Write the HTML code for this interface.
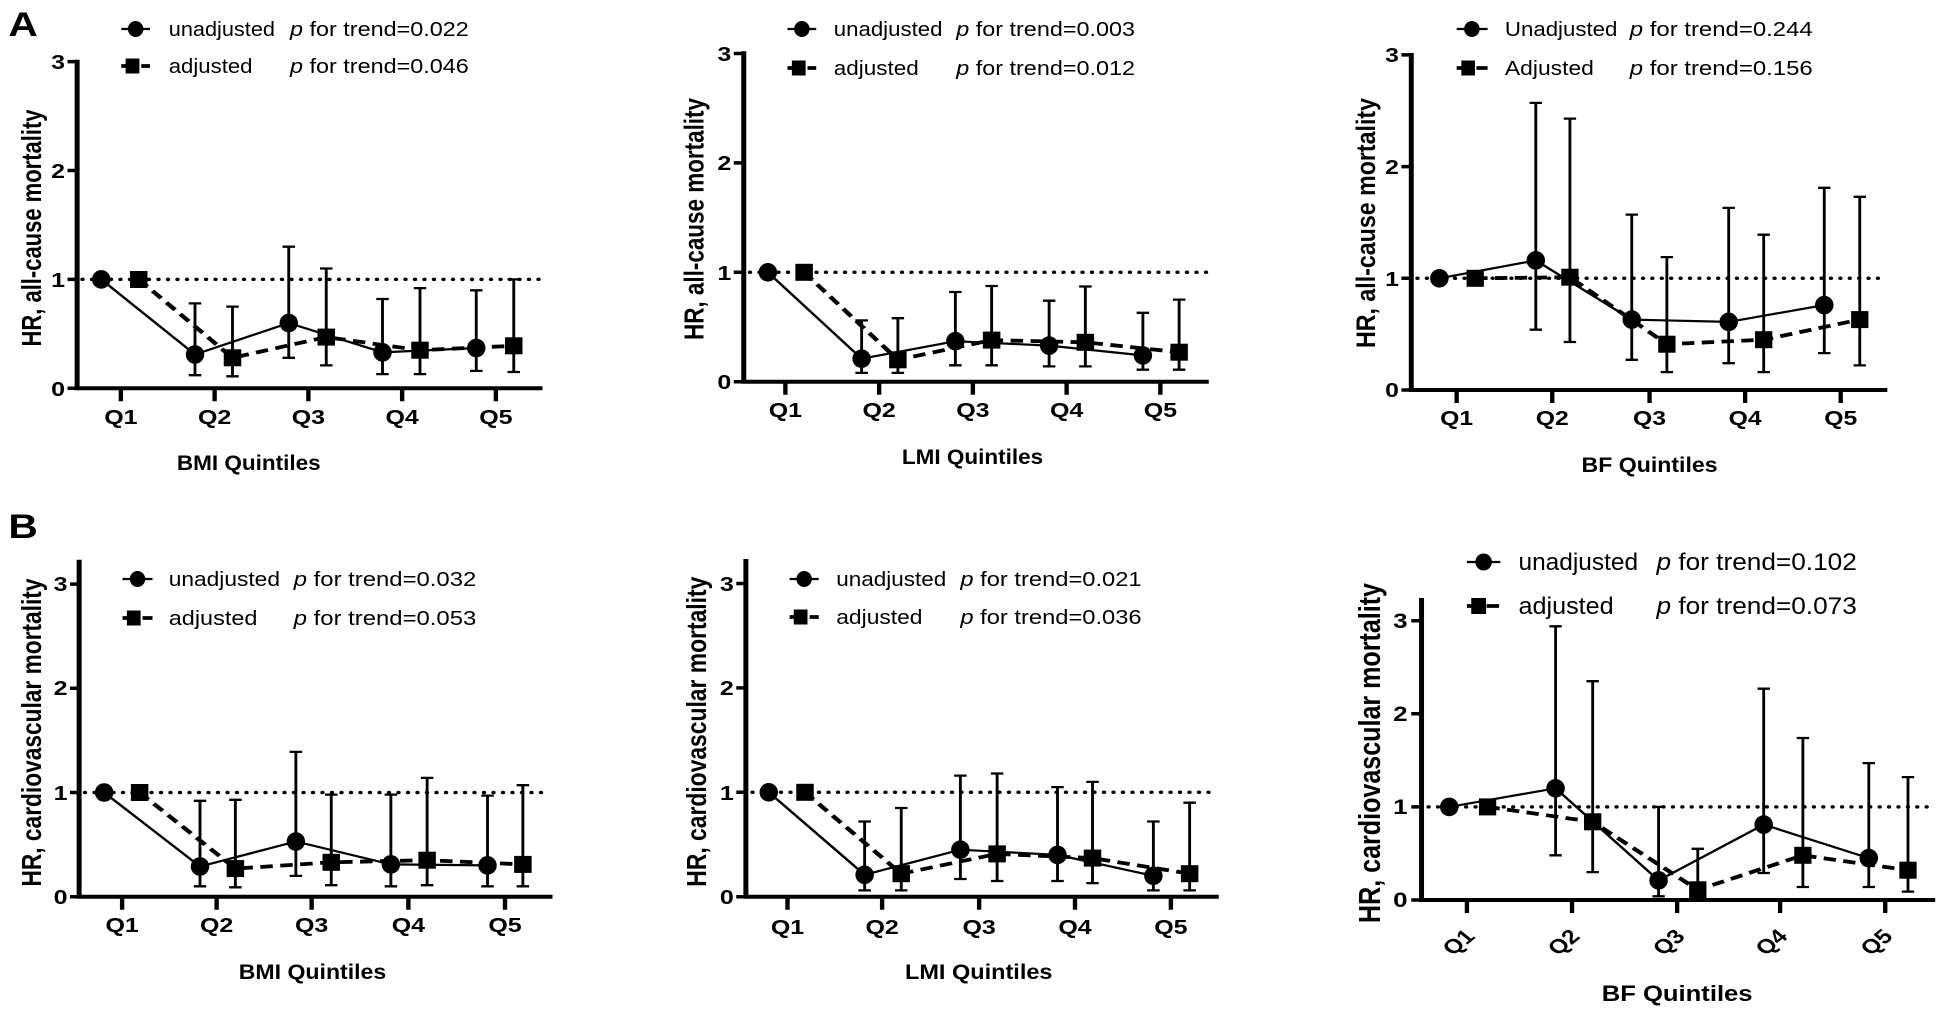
<!DOCTYPE html>
<html><head><meta charset="utf-8"><style>
html,body{margin:0;padding:0;background:#fff;}
svg{display:block;}
text{font-family:"Liberation Sans",Arial,sans-serif;fill:#000;}
.b{font-weight:bold;}
.ax{stroke:#000;stroke-width:4;fill:none;stroke-linecap:square;}
.tk{stroke:#000;stroke-width:3.5;fill:none;}
.eb{stroke:#000;stroke-width:2.3;fill:none;}
.ln{stroke:#000;stroke-width:2.2;fill:none;}
.dl{stroke:#000;stroke-width:3.8;fill:none;stroke-dasharray:10 6;}
.dot{stroke:#000;stroke-width:3.5;fill:none;stroke-dasharray:0 7.6;stroke-linecap:round;}
</style></head><body>
<svg width="1943" height="1020" viewBox="0 0 1943 1020" xmlns="http://www.w3.org/2000/svg">
<text x="7" y="36" class="b" font-size="34" transform="scale(1.2,1)">A</text>
<text x="7" y="538" class="b" font-size="34" transform="scale(1.2,1)">B</text>

<!-- ===== A1 ===== -->
<g transform="scale(1.25,1)">
<path class="dot" d="M66 279.4 H432"/>
<path class="ax" d="M61.7 61.7 V388.3 H432"/>
<path class="tk" d="M54 61.6 H61.7 M54 170.5 H61.7 M54 279.4 H61.7 M54 388.3 H61.7 M96.7 388.3 v13 M171.7 388.3 v13 M246.7 388.3 v13 M321.7 388.3 v13 M396.7 388.3 v13"/>
<g class="b" font-size="20" text-anchor="end"><text x="52" y="69">3</text><text x="52" y="178">2</text><text x="52" y="287">1</text><text x="52" y="396">0</text></g>
<g class="b" font-size="20" text-anchor="middle"><text x="96.7" y="424">Q1</text><text x="171.7" y="424">Q2</text><text x="246.7" y="424">Q3</text><text x="321.7" y="424">Q4</text><text x="396.7" y="424">Q5</text></g>
<text x="199" y="470" class="b" font-size="21" text-anchor="middle" textLength="115" lengthAdjust="spacingAndGlyphs">BMI Quintiles</text>
<text transform="translate(25,228) rotate(-90)" dy="0.35em" class="b" font-size="22" text-anchor="middle" textLength="237" lengthAdjust="spacingAndGlyphs">HR, all-cause mortality</text>
<path class="eb" d="M156 375.2V303.4M151 375.2h10M151 303.4h10 M231 357.8V246.7M226 357.8h10M226 246.7h10 M306 374.1V299M301 374.1h10M301 299h10 M381 370.9V290.3M376 370.9h10M376 290.3h10"/>
<path class="eb" d="M186 376.3V306.6M181 376.3h10M181 306.6h10 M261 365.4V268.5M256 365.4h10M256 268.5h10 M336 374.1V288.1M331 374.1h10M331 288.1h10 M411 372V279.4M406 372h10M406 279.4h10"/>
<path class="ln" d="M81 279.4L156 354.5L231 323L306 352.4L381 348"/>
<path class="dl" d="M111 279.4L186 357.8L261 337.1L336 350.2L411 345.8"/>
<g><ellipse cx="81" cy="279.4" rx="7.4" ry="9.3"/><ellipse cx="156" cy="354.5" rx="7.4" ry="9.3"/><ellipse cx="231" cy="323" rx="7.4" ry="9.3"/><ellipse cx="306" cy="352.4" rx="7.4" ry="9.3"/><ellipse cx="381" cy="348" rx="7.4" ry="9.3"/></g>
<g><rect x="104" y="271" width="14" height="17"/><rect x="179" y="349.3" width="14" height="17"/><rect x="254" y="328.6" width="14" height="17"/><rect x="329" y="341.7" width="14" height="17"/><rect x="404" y="337.3" width="14" height="17"/></g>
<path class="ln" d="M97 29H120"/><ellipse cx="108.5" cy="29" rx="6.2" ry="8"/>
<path class="dl" d="M97 66H120" stroke-dasharray="4 4"/><rect x="100.5" y="58.5" width="11" height="15"/>
<text x="135" y="36" font-size="20" textLength="85" lengthAdjust="spacingAndGlyphs">unadjusted</text>
<text x="232" y="36" font-size="20" textLength="143" lengthAdjust="spacingAndGlyphs"><tspan font-style="italic">p</tspan> for trend=0.022</text>
<text x="135" y="73" font-size="20" textLength="67" lengthAdjust="spacingAndGlyphs">adjusted</text>
<text x="232" y="73" font-size="20" textLength="143" lengthAdjust="spacingAndGlyphs"><tspan font-style="italic">p</tspan> for trend=0.046</text>
</g>

<!-- ===== A2 ===== -->
<g transform="translate(650,0) scale(1.25,1) translate(-650,0)">
<path class="dot" d="M730 272.3 H1095"/>
<path class="ax" d="M725 53.3 V381.7 H1095"/>
<path class="tk" d="M717 53.5 H725 M717 162.9 H725 M717 272.3 H725 M717 381.7 H725 M758.3 381.7 v13 M833.3 381.7 v13 M908.3 381.7 v13 M983.3 381.7 v13 M1058.3 381.7 v13"/>
<g class="b" font-size="20" text-anchor="end"><text x="715" y="61">3</text><text x="715" y="170">2</text><text x="715" y="280">1</text><text x="715" y="389">0</text></g>
<g class="b" font-size="20" text-anchor="middle"><text x="758.3" y="417">Q1</text><text x="833.3" y="417">Q2</text><text x="908.3" y="417">Q3</text><text x="983.3" y="417">Q4</text><text x="1058.3" y="417">Q5</text></g>
<text x="908" y="464" class="b" font-size="21" text-anchor="middle" textLength="113" lengthAdjust="spacingAndGlyphs">LMI Quintiles</text>
<text transform="translate(685,219) rotate(-90)" dy="0.35em" class="b" font-size="22" text-anchor="middle" textLength="242" lengthAdjust="spacingAndGlyphs">HR, all-cause mortality</text>
<path class="eb" d="M819.3 372.9V320.4M814.3 372.9h10M814.3 320.4h10 M894.3 365.3V292M889.3 365.3h10M889.3 292h10 M969.3 366.4V300.7M964.3 366.4h10M964.3 300.7h10 M1044.3 369.7V312.8M1039.3 369.7h10M1039.3 312.8h10"/>
<path class="eb" d="M848.3 372.9V318.2M843.3 372.9h10M843.3 318.2h10 M923.3 365.3V286M918.3 365.3h10M918.3 286h10 M998.3 366.4V286.5M993.3 366.4h10M993.3 286.5h10 M1073.3 369.7V299.6M1068.3 369.7h10M1068.3 299.6h10"/>
<path class="ln" d="M744.3 272.3L819.3 358.7L894.3 341.2L969.3 345.6L1044.3 355.4"/>
<path class="dl" d="M773.3 272.3L848.3 359.8L923.3 340.1L998.3 342.3L1073.3 352.2"/>
<g><ellipse cx="744.3" cy="272.3" rx="7.4" ry="9.3"/><ellipse cx="819.3" cy="358.7" rx="7.4" ry="9.3"/><ellipse cx="894.3" cy="341.2" rx="7.4" ry="9.3"/><ellipse cx="969.3" cy="345.6" rx="7.4" ry="9.3"/><ellipse cx="1044.3" cy="355.4" rx="7.4" ry="9.3"/></g>
<g><rect x="766.3" y="263.8" width="14" height="17"/><rect x="841.3" y="351.3" width="14" height="17"/><rect x="916.3" y="331.6" width="14" height="17"/><rect x="991.3" y="333.8" width="14" height="17"/><rect x="1066.3" y="343.7" width="14" height="17"/></g>
<path class="ln" d="M760 29H783"/><ellipse cx="771.5" cy="29" rx="6.2" ry="8"/>
<path class="dl" d="M760 68H783" stroke-dasharray="4 4"/><rect x="763.5" y="60.5" width="11" height="15"/>
<text x="797" y="36" font-size="20" textLength="87" lengthAdjust="spacingAndGlyphs">unadjusted</text>
<text x="895" y="36" font-size="20" textLength="143" lengthAdjust="spacingAndGlyphs"><tspan font-style="italic">p</tspan> for trend=0.003</text>
<text x="797" y="75" font-size="20" textLength="68" lengthAdjust="spacingAndGlyphs">adjusted</text>
<text x="895" y="75" font-size="20" textLength="143" lengthAdjust="spacingAndGlyphs"><tspan font-style="italic">p</tspan> for trend=0.012</text>
</g>

<!-- ===== A3 ===== -->
<g transform="translate(1300,0) scale(1.2365,1) translate(-1300,0)">
<path class="dot" d="M1395 278.3 H1773"/>
<path class="ax" d="M1390 55 V390 H1773"/>
<path class="tk" d="M1382 54.9 H1390 M1382 166.6 H1390 M1382 278.3 H1390 M1382 390 H1390 M1426.7 390 v13 M1504 390 v13 M1582.7 390 v13 M1660 390 v13 M1737.3 390 v13"/>
<g class="b" font-size="20" text-anchor="end"><text x="1380" y="62">3</text><text x="1380" y="174">2</text><text x="1380" y="286">1</text><text x="1380" y="397">0</text></g>
<g class="b" font-size="20" text-anchor="middle"><text x="1426.7" y="425">Q1</text><text x="1504" y="425">Q2</text><text x="1582.7" y="425">Q3</text><text x="1660" y="425">Q4</text><text x="1737.3" y="425">Q5</text></g>
<text x="1582.7" y="472" class="b" font-size="21" text-anchor="middle" textLength="110" lengthAdjust="spacingAndGlyphs">BF Quintiles</text>
<text transform="translate(1353,223) rotate(-90)" dy="0.35em" class="b" font-size="22" text-anchor="middle" textLength="250" lengthAdjust="spacingAndGlyphs">HR, all-cause mortality</text>
<path class="eb" d="M1490.7 329.7V102.9M1485.7 329.7h10M1485.7 102.9h10 M1568.3 359.8V214.6M1563.3 359.8h10M1563.3 214.6h10 M1646.7 363.2V207.9M1641.7 363.2h10M1641.7 207.9h10 M1724 353.1V187.8M1719 353.1h10M1719 187.8h10"/>
<path class="eb" d="M1518.3 342V118.6M1513.3 342h10M1513.3 118.6h10 M1596.7 372.1V257.1M1591.7 372.1h10M1591.7 257.1h10 M1675 372.1V234.7M1670 372.1h10M1670 234.7h10 M1752.7 365.4V196.8M1747.7 365.4h10M1747.7 196.8h10"/>
<path class="ln" d="M1412.7 278.3L1490.7 260.4L1568.3 319.6L1646.7 321.9L1724 305.1"/>
<path class="dl" d="M1441.7 278.3L1518.3 277.2L1596.7 344.2L1675 339.7L1752.7 319.6"/>
<g><ellipse cx="1412.7" cy="278.3" rx="7.5" ry="9.3"/><ellipse cx="1490.7" cy="260.4" rx="7.5" ry="9.3"/><ellipse cx="1568.3" cy="319.6" rx="7.5" ry="9.3"/><ellipse cx="1646.7" cy="321.9" rx="7.5" ry="9.3"/><ellipse cx="1724" cy="305.1" rx="7.5" ry="9.3"/></g>
<g><rect x="1434.7" y="269.8" width="14" height="17"/><rect x="1511.3" y="268.7" width="14" height="17"/><rect x="1589.7" y="335.7" width="14" height="17"/><rect x="1668" y="331.2" width="14" height="17"/><rect x="1745.7" y="311.1" width="14" height="17"/></g>
<path class="ln" d="M1426.7 29H1451.7"/><ellipse cx="1439" cy="29" rx="6.3" ry="8"/>
<path class="dl" d="M1426.7 68H1451.7" stroke-dasharray="4 4"/><rect x="1430.5" y="60.5" width="11" height="15"/>
<text x="1465.7" y="36" font-size="20" textLength="91" lengthAdjust="spacingAndGlyphs">Unadjusted</text>
<text x="1566.7" y="36" font-size="20" textLength="148" lengthAdjust="spacingAndGlyphs"><tspan font-style="italic">p</tspan> for trend=0.244</text>
<text x="1465.7" y="75" font-size="20" textLength="72" lengthAdjust="spacingAndGlyphs">Adjusted</text>
<text x="1566.7" y="75" font-size="20" textLength="148" lengthAdjust="spacingAndGlyphs"><tspan font-style="italic">p</tspan> for trend=0.156</text>
</g>

<!-- ===== B1 ===== -->
<g transform="scale(1.25,1)">
<path class="dot" d="M68 792.5 H440"/>
<path class="ax" d="M63.3 561.7 V896.7 H440"/>
<path class="tk" d="M56 584.1 H63.3 M56 688.3 H63.3 M56 792.5 H63.3 M56 896.7 H63.3 M97.7 896.7 v13 M173.3 896.7 v13 M249.3 896.7 v13 M326.7 896.7 v13 M404 896.7 v13"/>
<g class="b" font-size="20" text-anchor="end"><text x="54" y="591">3</text><text x="54" y="695">2</text><text x="54" y="800">1</text><text x="54" y="904">0</text></g>
<g class="b" font-size="20" text-anchor="middle"><text x="97.7" y="932">Q1</text><text x="173.3" y="932">Q2</text><text x="249.3" y="932">Q3</text><text x="326.7" y="932">Q4</text><text x="404" y="932">Q5</text></g>
<text x="250" y="979" class="b" font-size="21" text-anchor="middle" textLength="118" lengthAdjust="spacingAndGlyphs">BMI Quintiles</text>
<text transform="translate(25,732.5) rotate(-90)" dy="0.35em" class="b" font-size="22" text-anchor="middle" textLength="308" lengthAdjust="spacingAndGlyphs">HR, cardiovascular mortality</text>
<path class="eb" d="M160 886.3V800.8M155 886.3h10M155 800.8h10 M236.7 875.9V751.9M231.7 875.9h10M231.7 751.9h10 M312.7 886.3V794.6M307.7 886.3h10M307.7 794.6h10 M390 886.3V795.6M385 886.3h10M385 795.6h10"/>
<path class="eb" d="M188.3 887.3V799.8M183.3 887.3h10M183.3 799.8h10 M265 885.2V794.6M260 885.2h10M260 794.6h10 M341.7 885.2V777.9M336.7 885.2h10M336.7 777.9h10 M418.3 886.3V785.2M413.3 886.3h10M413.3 785.2h10"/>
<path class="ln" d="M83.3 792.5L160 866.5L236.7 841.5L312.7 864.4L390 865.4"/>
<path class="dl" d="M111.7 792.5L188.3 868.6L265 862.3L341.7 860.2L418.3 864.4"/>
<g><ellipse cx="83.3" cy="792.5" rx="7.4" ry="9.3"/><ellipse cx="160" cy="866.5" rx="7.4" ry="9.3"/><ellipse cx="236.7" cy="841.5" rx="7.4" ry="9.3"/><ellipse cx="312.7" cy="864.4" rx="7.4" ry="9.3"/><ellipse cx="390" cy="865.4" rx="7.4" ry="9.3"/></g>
<g><rect x="104.7" y="784" width="14" height="17"/><rect x="181.3" y="860.1" width="14" height="17"/><rect x="258" y="853.8" width="14" height="17"/><rect x="334.7" y="851.7" width="14" height="17"/><rect x="411.3" y="855.9" width="14" height="17"/></g>
<path class="ln" d="M98 579H122"/><ellipse cx="110" cy="579" rx="6.2" ry="8"/>
<path class="dl" d="M98 618H122" stroke-dasharray="4 4"/><rect x="101.5" y="610.5" width="11" height="15"/>
<text x="135" y="586" font-size="20" textLength="89" lengthAdjust="spacingAndGlyphs">unadjusted</text>
<text x="235" y="586" font-size="20" textLength="146" lengthAdjust="spacingAndGlyphs"><tspan font-style="italic">p</tspan> for trend=0.032</text>
<text x="135" y="625" font-size="20" textLength="71" lengthAdjust="spacingAndGlyphs">adjusted</text>
<text x="235" y="625" font-size="20" textLength="146" lengthAdjust="spacingAndGlyphs"><tspan font-style="italic">p</tspan> for trend=0.053</text>
</g>

<!-- ===== B2 ===== -->
<g transform="translate(650,0) scale(1.25,1) translate(-650,0)">
<path class="dot" d="M732 792.3 H1103"/>
<path class="ax" d="M726.7 561 V896.7 H1103"/>
<path class="tk" d="M719 583.5 H726.7 M719 687.9 H726.7 M719 792.3 H726.7 M719 896.7 H726.7 M760 896.7 v13 M835.7 896.7 v13 M913.3 896.7 v13 M990 896.7 v13 M1066.7 896.7 v13"/>
<g class="b" font-size="20" text-anchor="end"><text x="717" y="591">3</text><text x="717" y="695">2</text><text x="717" y="800">1</text><text x="717" y="904">0</text></g>
<g class="b" font-size="20" text-anchor="middle"><text x="760" y="934">Q1</text><text x="835.7" y="934">Q2</text><text x="913.3" y="934">Q3</text><text x="990" y="934">Q4</text><text x="1066.7" y="934">Q5</text></g>
<text x="913" y="979" class="b" font-size="21" text-anchor="middle" textLength="118" lengthAdjust="spacingAndGlyphs">LMI Quintiles</text>
<text transform="translate(687,731.7) rotate(-90)" dy="0.35em" class="b" font-size="22" text-anchor="middle" textLength="310" lengthAdjust="spacingAndGlyphs">HR, cardiovascular mortality</text>
<path class="eb" d="M821.7 890.4V821.5M816.7 890.4h10M816.7 821.5h10 M898.3 879V775.6M893.3 879h10M893.3 775.6h10 M976 881V787.1M971 881h10M971 787.1h10 M1052.7 890.4V821.5M1047.7 890.4h10M1047.7 821.5h10"/>
<path class="eb" d="M851 890.4V808M846 890.4h10M846 808h10 M927.7 881V773.5M922.7 881h10M922.7 773.5h10 M1004 883.1V781.9M999 883.1h10M999 781.9h10 M1081.7 890.4V802.7M1076.7 890.4h10M1076.7 802.7h10"/>
<path class="ln" d="M745 792.3L821.7 874.8L898.3 849.7L976 854.9L1052.7 875.8"/>
<path class="dl" d="M774 792.3L851 873.7L927.7 853.9L1004 858.1L1081.7 873.7"/>
<g><ellipse cx="745" cy="792.3" rx="7.4" ry="9.3"/><ellipse cx="821.7" cy="874.8" rx="7.4" ry="9.3"/><ellipse cx="898.3" cy="849.7" rx="7.4" ry="9.3"/><ellipse cx="976" cy="854.9" rx="7.4" ry="9.3"/><ellipse cx="1052.7" cy="875.8" rx="7.4" ry="9.3"/></g>
<g><rect x="767" y="783.8" width="14" height="17"/><rect x="844" y="865.2" width="14" height="17"/><rect x="920.7" y="845.4" width="14" height="17"/><rect x="997" y="849.6" width="14" height="17"/><rect x="1074.7" y="865.2" width="14" height="17"/></g>
<path class="ln" d="M761.7 579H785"/><ellipse cx="773.3" cy="579" rx="6.2" ry="8"/>
<path class="dl" d="M761.7 617H785" stroke-dasharray="4 4"/><rect x="765" y="609.5" width="11" height="15"/>
<text x="799" y="586" font-size="20" textLength="88" lengthAdjust="spacingAndGlyphs">unadjusted</text>
<text x="898.3" y="586" font-size="20" textLength="145" lengthAdjust="spacingAndGlyphs"><tspan font-style="italic">p</tspan> for trend=0.021</text>
<text x="799" y="624" font-size="20" textLength="69" lengthAdjust="spacingAndGlyphs">adjusted</text>
<text x="898.3" y="624" font-size="20" textLength="145" lengthAdjust="spacingAndGlyphs"><tspan font-style="italic">p</tspan> for trend=0.036</text>
</g>

<!-- ===== B3 ===== -->
<g transform="translate(1300,0) scale(1.2365,1) translate(-1300,0)">
<path class="dot" d="M1404 806.9 H1811.7"/>
<path class="ax" d="M1398.3 600 V900 H1811.7"/>
<path class="tk" d="M1390 620.7 H1398.3 M1390 713.8 H1398.3 M1390 806.9 H1398.3 M1390 900 H1398.3 M1435 900 v13 M1520 900 v13 M1605 900 v13 M1688.3 900 v13 M1773.3 900 v13"/>
<g class="b" font-size="21" text-anchor="end"><text x="1387" y="628">3</text><text x="1387" y="721">2</text><text x="1387" y="814">1</text><text x="1387" y="907">0</text></g>
<g class="b" font-size="20" text-anchor="middle">
<text transform="translate(1428,942) rotate(-45)" dy="0.35em">Q1</text>
<text transform="translate(1513,942) rotate(-45)" dy="0.35em">Q2</text>
<text transform="translate(1598,942) rotate(-45)" dy="0.35em">Q3</text>
<text transform="translate(1681,942) rotate(-45)" dy="0.35em">Q4</text>
<text transform="translate(1766,942) rotate(-45)" dy="0.35em">Q5</text>
</g>
<text x="1605" y="1001" class="b" font-size="22" text-anchor="middle" textLength="122" lengthAdjust="spacingAndGlyphs">BF Quintiles</text>
<text transform="translate(1356,753) rotate(-90)" dy="0.35em" class="b" font-size="25" text-anchor="middle" textLength="340" lengthAdjust="spacingAndGlyphs">HR, cardiovascular mortality</text>
<path class="eb" d="M1506.7 855.3V626.3M1501.7 855.3h10M1501.7 626.3h10 M1590 896.3V806.9M1585 896.3h10M1585 806.9h10 M1675 873V688.7M1670 873h10M1670 688.7h10 M1760 887V763.1M1755 887h10M1755 763.1h10"/>
<path class="eb" d="M1536.7 872.1V681.2M1531.7 872.1h10M1531.7 681.2h10 M1621.7 898.1V848.8M1616.7 898.1h10M1616.7 848.8h10 M1706.7 887V738M1701.7 887h10M1701.7 738h10 M1791.7 891.6V777.1M1786.7 891.6h10M1786.7 777.1h10"/>
<path class="ln" d="M1420.7 806.9L1506.7 788.3L1590 880.4L1675 824.6L1760 858.1"/>
<path class="dl" d="M1451.7 806.9L1536.7 821.8L1621.7 889.8L1706.7 855.3L1791.7 870.2"/>
<g><ellipse cx="1420.7" cy="806.9" rx="7.5" ry="9.3"/><ellipse cx="1506.7" cy="788.3" rx="7.5" ry="9.3"/><ellipse cx="1590" cy="880.4" rx="7.5" ry="9.3"/><ellipse cx="1675" cy="824.6" rx="7.5" ry="9.3"/><ellipse cx="1760" cy="858.1" rx="7.5" ry="9.3"/></g>
<g><rect x="1444.7" y="798.4" width="14" height="17"/><rect x="1529.7" y="813.3" width="14" height="17"/><rect x="1614.7" y="881.3" width="14" height="17"/><rect x="1699.7" y="846.8" width="14" height="17"/><rect x="1784.7" y="861.7" width="14" height="17"/></g>
<path class="ln" d="M1435 562H1462"/><ellipse cx="1448.5" cy="562" rx="6.7" ry="8.5"/>
<path class="dl" d="M1435 606H1462" stroke-dasharray="4 4"/><rect x="1438.5" y="598" width="12" height="16"/>
<text x="1476.7" y="570" font-size="24" textLength="96.7" lengthAdjust="spacingAndGlyphs">unadjusted</text>
<text x="1588.3" y="570" font-size="24" textLength="162" lengthAdjust="spacingAndGlyphs"><tspan font-style="italic">p</tspan> for trend=0.102</text>
<text x="1476.7" y="614" font-size="24" textLength="77" lengthAdjust="spacingAndGlyphs">adjusted</text>
<text x="1588.3" y="614" font-size="24" textLength="162" lengthAdjust="spacingAndGlyphs"><tspan font-style="italic">p</tspan> for trend=0.073</text>
</g>
</svg>
</body></html>
